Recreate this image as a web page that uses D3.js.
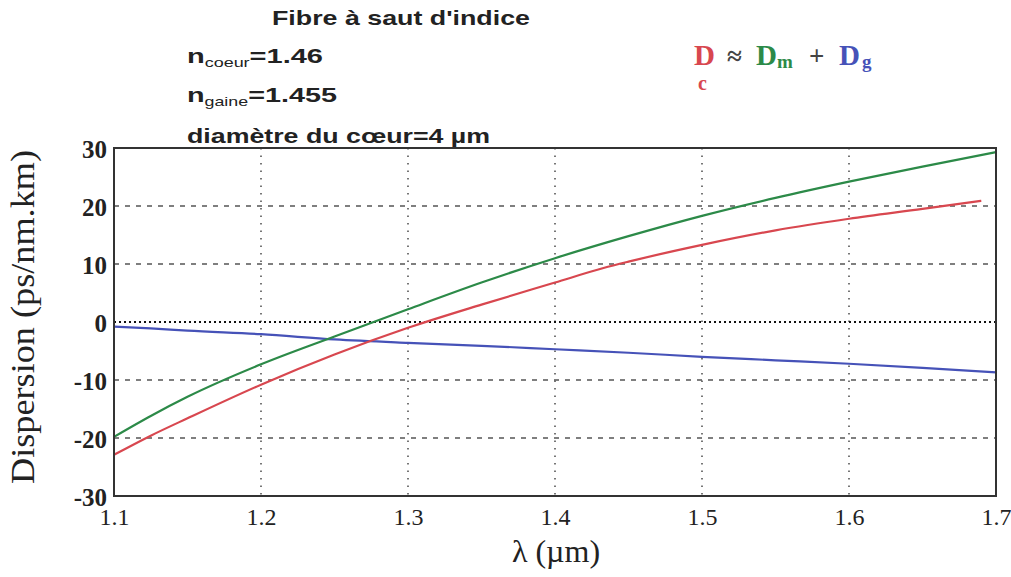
<!DOCTYPE html>
<html>
<head>
<meta charset="utf-8">
<script src="https://cdn.jsdelivr.net/npm/d3@7"></script>
<style>
  html, body { margin: 0; padding: 0; background: #fff; }
  svg { display: block; }
</style>
</head>
<body>
<svg id="chart" width="1011" height="577"></svg>
<script>
// Wavelength grid (µm) and dispersion curves (ps/nm.km)
const lambda = [1.10, 1.125, 1.15, 1.20, 1.25, 1.30, 1.35, 1.40, 1.45, 1.50, 1.55, 1.60, 1.65, 1.70];
const dMaterial = [-19.8, -16.2, -12.9, -7.3, -2.5, 2.2, 6.8, 11.0, 14.8, 18.3, 21.4, 24.2, 26.8, 29.3];
const dGuide = [-0.8, -1.1, -1.5, -2.1, -3.0, -3.6, -4.1, -4.7, -5.3, -6.0, -6.6, -7.2, -7.9, -8.7];
const lambdaC = [1.10, 1.125, 1.15, 1.20, 1.25, 1.30, 1.35, 1.40, 1.433, 1.45, 1.50, 1.55, 1.60, 1.65, 1.69];
const dChromatic = [-22.9, -19.6, -16.6, -10.8, -5.6, -1.0, 3.0, 6.8, 9.3, 10.4, 13.3, 15.8, 17.8, 19.5, 20.9];

const xTicks = [1.1, 1.2, 1.3, 1.4, 1.5, 1.6, 1.7];
const yTicks = [30, 20, 10, 0, -10, -20, -30];

const colors = { c: "#d8474f", m: "#2c8a48", g: "#4652b8" };

const svg = d3.select("#chart");
const x = d3.scaleLinear().domain([1.1, 1.7]).range([114, 996]);
const y = d3.scaleLinear().domain([-30, 30]).range([496, 148]);

// Grid: dashed horizontals, dotted verticals, dense dotted zero line
const grid = svg.append("g");
grid.selectAll("line.h").data(yTicks.filter(v => v !== 0 && Math.abs(v) !== 30)).join("line")
  .attr("x1", x(1.1)).attr("x2", x(1.7))
  .attr("y1", d => y(d)).attr("y2", d => y(d))
  .attr("stroke", "#555").attr("stroke-width", 1.3).attr("stroke-dasharray", "5,6");
grid.selectAll("line.v").data(xTicks.slice(1, -1)).join("line")
  .attr("x1", d => x(d)).attr("x2", d => x(d))
  .attr("y1", y(30)).attr("y2", y(-30))
  .attr("stroke", "#555").attr("stroke-width", 1.6).attr("stroke-dasharray", "1.5,6");
grid.append("line")
  .attr("x1", x(1.1)).attr("x2", x(1.7)).attr("y1", y(0)).attr("y2", y(0))
  .attr("stroke", "#111").attr("stroke-width", 2).attr("stroke-dasharray", "2,3");

// Curves
const line = d3.line().x(d => x(d[0])).y(d => y(d[1])).curve(d3.curveMonotoneX);
const curves = [
  { xs: lambda, ys: dGuide, color: colors.g },
  { xs: lambda, ys: dMaterial, color: colors.m },
  { xs: lambdaC, ys: dChromatic, color: colors.c }
];
svg.append("g").selectAll("path").data(curves).join("path")
  .attr("d", c => line(c.xs.map((v, i) => [v, c.ys[i]])))
  .attr("fill", "none").attr("stroke", c => c.color).attr("stroke-width", 2.2);

// Frame
svg.append("rect")
  .attr("x", x(1.1)).attr("y", y(30))
  .attr("width", x(1.7) - x(1.1)).attr("height", y(-30) - y(30))
  .attr("fill", "none").attr("stroke", "#333").attr("stroke-width", 2);

// Axes
const yAxis = d3.axisLeft(y).tickValues(yTicks).tickSize(0).tickPadding(7).tickFormat(d3.format("d"));
const gy = svg.append("g").attr("transform", `translate(${x(1.1)},0)`).call(yAxis);
gy.select(".domain").remove();
gy.selectAll("text").attr("font-family", "Liberation Serif, serif").attr("font-size", 25)
  .attr("font-weight", "bold").attr("fill", "#222").attr("dy", "0.36em")
  .text(d => d < 0 ? "-" + Math.abs(d) : d);

const xAxis = d3.axisBottom(x).tickValues(xTicks).tickSize(0).tickPadding(12).tickFormat(d3.format(".1f"));
const gx = svg.append("g").attr("transform", `translate(0,${y(-30)})`).call(xAxis);
gx.select(".domain").remove();
gx.selectAll("text").attr("font-family", "Liberation Serif, serif").attr("font-size", 24)
  .attr("fill", "#222");

// Axis titles
svg.append("text").attr("x", 556).attr("y", 562).attr("text-anchor", "middle")
  .attr("font-family", "Liberation Serif, serif").attr("font-size", 32).attr("fill", "#222")
  .text("λ (µm)");
svg.append("text").attr("transform", "translate(34,317) rotate(-90)").attr("text-anchor", "middle")
  .attr("font-family", "Liberation Serif, serif").attr("font-size", 34).attr("fill", "#222")
  .attr("textLength", 334).attr("lengthAdjust", "spacingAndGlyphs")
  .text("Dispersion (ps/nm.km)");

// Fibre parameters
const info = svg.append("g").attr("font-family", "Liberation Sans, Arial, sans-serif")
  .attr("font-weight", "bold").attr("fill", "#222").attr("font-size", 21);
info.append("text").attr("x", 272).attr("y", 25)
  .attr("textLength", 258).attr("lengthAdjust", "spacingAndGlyphs")
  .text("Fibre à saut d'indice");
const n1 = info.append("text").attr("x", 187).attr("y", 63)
  .attr("textLength", 136).attr("lengthAdjust", "spacingAndGlyphs");
n1.append("tspan").text("n");
n1.append("tspan").attr("font-size", 13).attr("font-weight", "normal").attr("dy", 4).text("coeur");
n1.append("tspan").attr("dy", -4).text("=1.46");
const n2 = info.append("text").attr("x", 187).attr("y", 102)
  .attr("textLength", 150).attr("lengthAdjust", "spacingAndGlyphs");
n2.append("tspan").text("n");
n2.append("tspan").attr("font-size", 13).attr("font-weight", "normal").attr("dy", 4).text("gaine");
n2.append("tspan").attr("dy", -4).text("=1.455");
info.append("text").attr("x", 187).attr("y", 143)
  .attr("textLength", 303).attr("lengthAdjust", "spacingAndGlyphs")
  .text("diamètre du cœur=4 µm");

// Relation Dc ≈ Dm + Dg
const eq = svg.append("g").attr("font-family", "Liberation Serif, serif").attr("font-weight", "bold");
eq.append("text").attr("x", 694).attr("y", 65).attr("font-size", 29).attr("fill", colors.c).text("D");
eq.append("text").attr("x", 698).attr("y", 90).attr("font-size", 20).attr("fill", colors.c).text("c");
eq.append("text").attr("x", 727).attr("y", 65).attr("font-size", 27).attr("fill", "#444").text("≈");
eq.append("text").attr("x", 756).attr("y", 65).attr("font-size", 29).attr("fill", colors.m).text("D");
eq.append("text").attr("x", 777).attr("y", 68).attr("font-size", 19).attr("fill", colors.m).text("m");
eq.append("text").attr("x", 809).attr("y", 65).attr("font-size", 27).attr("fill", "#444").text("+");
eq.append("text").attr("x", 839).attr("y", 65).attr("font-size", 29).attr("fill", colors.g).text("D");
eq.append("text").attr("x", 862).attr("y", 68).attr("font-size", 19).attr("fill", colors.g).text("g");
</script>
</body>
</html>
